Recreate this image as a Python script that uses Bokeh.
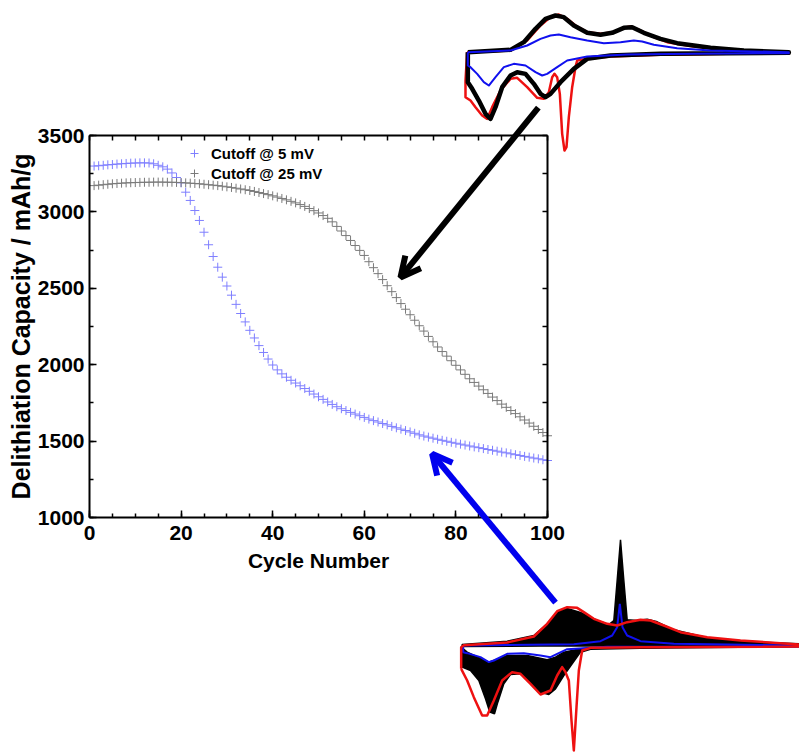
from bokeh.plotting import figure
from bokeh.models import (Range1d, LinearAxis, SingleIntervalTicker, Arrow, OpenHead,
                          Legend, LegendItem, CustomJSTickFormatter)
from bokeh.embed import file_html
from bokeh.resources import INLINE

# ---------------- data ----------------
cycles = list(range(1, 101))

cap_5mV = [3300, 3302, 3305, 3308, 3310, 3313, 3315, 3317, 3319, 3320,
           3321, 3321, 3320, 3315, 3305, 3295, 3280, 3255, 3225, 3190,
           3129, 3075, 3009, 2944, 2867, 2785, 2708, 2638, 2573, 2515,
           2455, 2395, 2335, 2280, 2225, 2175, 2125, 2080, 2037, 1998,
           1966, 1940, 1918, 1898, 1880, 1862, 1844, 1826, 1808, 1790,
           1773, 1756, 1740, 1725, 1712, 1700, 1688, 1677, 1666, 1655,
           1644, 1634, 1625, 1615, 1606, 1596, 1587, 1578, 1569, 1560,
           1551, 1541, 1533, 1526, 1519, 1512, 1505, 1499, 1492, 1486,
           1480, 1474, 1468, 1462, 1457, 1451, 1445, 1440, 1434, 1428,
           1423, 1417, 1411, 1406, 1400, 1395, 1389, 1384, 1378, 1373]

cap_25mV = [3172, 3175, 3178, 3181, 3184, 3186, 3188, 3190, 3191, 3192,
            3193, 3194, 3194, 3195, 3195, 3195, 3194, 3194, 3193, 3192,
            3190, 3188, 3186, 3184, 3181, 3178, 3175, 3172, 3168, 3164,
            3160, 3155, 3150, 3145, 3140, 3134, 3127, 3120, 3113, 3105,
            3097, 3088, 3079, 3069, 3059, 3048, 3036, 3022, 3008, 2993,
            2976, 2958, 2935, 2905, 2875, 2845, 2813, 2780, 2748, 2715,
            2674, 2635, 2596, 2557, 2517, 2478, 2439, 2400, 2363, 2327,
            2291, 2255, 2220, 2185, 2150, 2116, 2086, 2056, 2026, 1996,
            1966, 1937, 1908, 1884, 1860, 1836, 1812, 1788, 1765, 1742,
            1721, 1700, 1680, 1659, 1638, 1618, 1597, 1576, 1556, 1535]

series_labels = ["Cutoff @ 5 mV", "Cutoff @ 25 mV"]
x_label = "Cycle Number"
y_label = "Delithiation Capacity / mAh/g"

# top inset CV (potential V, current mA) - 25 mV cutoff
top_red_v = [0.03, 0.225, 0.3, 0.36, 0.405, 0.4425, 0.48, 0.5175, 0.57, 0.63, 0.69, 0.735, 0.765, 0.81, 0.87,
             0.93, 1.05, 1.2, 1.35, 1.4775,
             1.4775, 1.2, 0.9, 0.675, 0.57, 0.525, 0.5175, 0.5025, 0.4875, 0.477, 0.468, 0.4575, 0.447, 0.435,
             0.423, 0.4125, 0.3975, 0.375, 0.345, 0.3, 0.255, 0.225, 0.18, 0.1425, 0.12, 0.0975, 0.0675, 0.045,
             0.0225, 0.0225, 0.03]
top_red_i = [0.0, 0.05, 0.35, 0.8, 1.05, 1.13, 1.0, 0.8, 0.6, 0.55, 0.6, 0.73, 0.77, 0.65, 0.45,
             0.3, 0.17, 0.07, 0.02, -0.02,
             -0.05, -0.05, -0.08, -0.13, -0.2, -0.25, -0.45, -1.05, -1.95, -2.85, -2.95, -2.45, -1.25, -0.75,
             -0.65, -0.75, -1.2, -1.4, -1.37, -1.05, -0.77, -0.8, -1.15, -1.65, -2.0, -1.9, -1.65, -1.45,
             -1.35, -0.85, 0.0]
top_black_v = [0.033, 0.225, 0.285, 0.3375, 0.3825, 0.4275, 0.465, 0.51, 0.57, 0.63, 0.6825, 0.735, 0.7725,
               0.825, 0.9, 0.975, 1.125, 1.275, 1.4775,
               1.4775, 1.2, 0.9, 0.675, 0.57, 0.51, 0.45, 0.405, 0.3825, 0.36, 0.33, 0.2925, 0.255, 0.225,
               0.1875, 0.1575, 0.135, 0.1125, 0.0825, 0.0525, 0.033, 0.033]
top_black_i = [0.0, 0.07, 0.3, 0.7, 1.0, 1.1, 1.05, 0.8, 0.58, 0.52, 0.58, 0.73, 0.75,
               0.58, 0.4, 0.27, 0.13, 0.05, 0.0,
               -0.02, -0.03, -0.05, -0.1, -0.2, -0.5, -0.9, -1.25, -1.35, -1.25, -0.95, -0.65, -0.6, -0.7,
               -1.05, -1.65, -2.0, -1.85, -1.45, -1.1, -0.9, 0.0]
top_blue_v = [0.033, 0.225, 0.3, 0.36, 0.405, 0.4425, 0.495, 0.57, 0.645, 0.72, 0.78, 0.8175, 0.87, 0.975,
              1.125, 1.4775,
              1.4775, 1.05, 0.75, 0.57, 0.48, 0.435, 0.39, 0.3675, 0.3375, 0.2925, 0.24, 0.195, 0.1575,
              0.1275, 0.105, 0.075, 0.045, 0.033, 0.033]
top_blue_i = [0.0, 0.05, 0.2, 0.4, 0.5, 0.53, 0.45, 0.35, 0.27, 0.3, 0.35, 0.32, 0.22, 0.12,
              0.05, 0.0,
              -0.03, -0.05, -0.07, -0.13, -0.25, -0.45, -0.65, -0.7, -0.6, -0.4, -0.35, -0.45, -0.75,
              -1.0, -0.9, -0.65, -0.45, -0.4, 0.0]

# bottom inset CV (potential V, current mA) - 5 mV cutoff
bot_ox_band_v = [0.0975, 0.3, 0.42, 0.48, 0.525, 0.57, 0.63, 0.705, 0.7575, 0.78, 0.795, 0.81, 0.825, 0.84,
                 0.885, 0.93, 0.975, 1.05, 1.2, 1.35, 1.6125,
                 1.6125, 0.84, 0.6, 0.0975]
bot_ox_band_i = [0.04, 0.14, 0.31, 0.66, 1.01, 1.12, 1.0, 0.76, 0.64, 0.76, 1.96, 3.18, 1.96, 0.78,
                 0.76, 0.8, 0.72, 0.48, 0.24, 0.14, 0.06,
                 0.0, -0.01, 0.0, -0.02]
bot_red_band_v = [0.093, 0.12, 0.2175, 0.3, 0.39, 0.48, 0.5175, 0.555, 0.63, 0.75, 1.6125,
                  1.6125, 0.9, 0.675, 0.63, 0.5925, 0.555, 0.5175, 0.4875, 0.45, 0.405, 0.36, 0.315,
                  0.285, 0.258, 0.243, 0.222, 0.2025, 0.1725, 0.135, 0.0975]
bot_red_band_i = [-0.04, -0.19, -0.49, -0.29, -0.29, -0.42, -0.34, -0.19, -0.09, -0.05, -0.02,
                  -0.03, -0.07, -0.1, -0.19, -0.54, -0.89, -1.29, -1.46, -1.39, -1.09, -0.84, -0.86,
                  -1.14, -1.69, -2.04, -1.99, -1.59, -1.04, -0.74, -0.64]
bot_red_v = [0.093, 0.093, 0.105, 0.3, 0.42, 0.48, 0.525, 0.57, 0.615, 0.645, 0.69, 0.75, 0.795, 0.84, 0.9,
             0.945, 1.005, 1.08, 1.2, 1.35, 1.6125,
             1.6125, 0.9, 0.675, 0.6375, 0.6225, 0.612, 0.6, 0.5895, 0.5775, 0.5625, 0.5475, 0.525, 0.495,
             0.45, 0.405, 0.36, 0.3225, 0.2775, 0.24, 0.21, 0.1875, 0.15, 0.12, 0.093]
bot_red_i = [-0.69, -0.04, 0.02, 0.1, 0.28, 0.66, 1.04, 1.16, 1.14, 1.01, 0.81, 0.66, 0.61, 0.71, 0.78,
             0.76, 0.61, 0.41, 0.26, 0.16, 0.04,
             -0.02, -0.04, -0.06, -0.14, -0.74, -1.84, -3.14, -2.24, -1.04, -0.79, -0.64, -0.89, -1.34,
             -1.46, -1.14, -0.84, -0.79, -1.04, -1.64, -2.09, -2.09, -1.54, -1.04, -0.69]
bot_blue_v = [0.105, 0.6, 0.72, 0.7725, 0.795, 0.807, 0.819, 0.84, 0.9, 1.05, 1.6125,
              1.6125, 0.75, 0.57, 0.525, 0.495, 0.45, 0.375, 0.3, 0.24, 0.2175, 0.18, 0.12, 0.102, 0.102]
bot_blue_i = [0.01, 0.05, 0.14, 0.31, 0.56, 1.26, 0.56, 0.31, 0.14, 0.06, 0.01,
              -0.02, -0.03, -0.1, -0.24, -0.34, -0.29, -0.22, -0.24, -0.44, -0.49, -0.34, -0.22, -0.19, 0.0]

# arrows (start -> tip) in main-plot data coordinates
arrow_black = dict(x_start=98.0, y_start=3683, x_end=67.9, y_end=2571)
arrow_blue = dict(x_start=101.75, y_start=443, x_end=74.8, y_end=1417)

# ---------------- layout geometry ----------------
W, H = 799, 753
OFF = 0


def xpx(page_x):
    return page_x - OFF


def ypx(page_y):
    return H - (page_y - OFF)


def to_range(v0, p0, v1, p1, L):
    s = (p1 - p0) / (v1 - v0)
    return Range1d(start=v0 - p0 / s, end=v0 + (L - p0) / s)


FONT = "Liberation Sans"

p = figure(width=W, height=H,
           x_range=to_range(0, xpx(89), 100, xpx(547), W),
           y_range=to_range(1000, ypx(517), 3500, ypx(135), H),
           x_axis_type=None, y_axis_type=None,
           output_backend="svg", toolbar_location=None,
           min_border=0, outline_line_color=None,
           background_fill_color="white", border_fill_color="white")

p.extra_x_ranges = {
    "tv": to_range(0, xpx(460), 1.5, xpx(793.33), W),
    "bv": to_range(0, xpx(440), 1.5, xpx(773.33), W),
}
p.extra_y_ranges = {
    "ti": to_range(0, ypx(51.67), 1, ypx(18.33), H),
    "bi": to_range(0, ypx(645.33), 1, ypx(612), H),
}

# ---- bottom inset ----
p.patch(bot_ox_band_v, bot_ox_band_i, x_range_name="bv", y_range_name="bi",
        fill_color="black", line_color="black", line_width=1.5)
p.patch(bot_red_band_v, bot_red_band_i, x_range_name="bv", y_range_name="bi",
        fill_color="black", line_color="black", line_width=1.5)
p.line(bot_blue_v, bot_blue_i, x_range_name="bv", y_range_name="bi",
       line_color="#1010ee", line_width=2)
p.line(bot_red_v, bot_red_i, x_range_name="bv", y_range_name="bi",
       line_color="#ee1111", line_width=2.5, line_join="round")

# ---- top inset ----
p.line(top_red_v, top_red_i, x_range_name="tv", y_range_name="ti",
       line_color="#ee1111", line_width=2.5, line_join="round")
p.line(top_black_v, top_black_i, x_range_name="tv", y_range_name="ti",
       line_color="black", line_width=4.5, line_join="round")
p.line(top_blue_v, top_blue_i, x_range_name="tv", y_range_name="ti",
       line_color="#1010ee", line_width=2, line_join="round")

# ---- main data ----
r5 = p.scatter(cycles, cap_5mV, marker="cross", size=9, line_color="#7f7fff", line_width=1)
r25 = p.scatter(cycles, cap_25mV, marker="cross", size=9, line_color="#7a7a7a", line_width=1)


# ---- axes (box) ----
def style(ax, tick_in, minor_in):
    ax.axis_line_width = 2
    ax.axis_line_color = "black"
    ax.major_tick_line_width = 1.5
    ax.minor_tick_line_width = 1.5
    ax.major_tick_line_color = "black"
    ax.minor_tick_line_color = "black"
    ax.major_tick_in = tick_in
    ax.major_tick_out = 0
    ax.minor_tick_in = minor_in
    ax.minor_tick_out = 0
    ax.major_label_text_font = FONT
    ax.major_label_text_font_style = "bold"
    ax.major_label_text_font_size = "21px"
    ax.major_label_text_color = "black"
    ax.axis_label_text_font = FONT
    ax.axis_label_text_font_style = "bold"
    ax.axis_label_text_color = "black"


xb = LinearAxis(ticker=SingleIntervalTicker(interval=20, num_minor_ticks=4),
                fixed_location=1000, bounds=(0, 100), axis_label=x_label)
style(xb, 7, 4)
xb.axis_label_text_font_size = "21px"
xb.major_label_standoff = 8
xb.axis_label_standoff = 6
p.add_layout(xb, "below")

yl = LinearAxis(ticker=SingleIntervalTicker(interval=500, num_minor_ticks=2),
                fixed_location=0, bounds=(1000, 3500), axis_label=y_label)
style(yl, 7, 4)
yl.axis_label_text_font_size = "25px"
yl.major_label_standoff = 5
yl.axis_label_standoff = 0
p.add_layout(yl, "left")

blank = CustomJSTickFormatter(code="return ''")
xt = LinearAxis(ticker=SingleIntervalTicker(interval=5, num_minor_ticks=0),
                fixed_location=3500, bounds=(0, 100), formatter=blank)
style(xt, 5, 0)
p.add_layout(xt, "above")

yr = LinearAxis(ticker=SingleIntervalTicker(interval=250, num_minor_ticks=0),
                fixed_location=100, bounds=(1000, 3500), formatter=blank)
style(yr, 5, 0)
p.add_layout(yr, "right")

# ---- legend ----
legend = Legend(items=[LegendItem(label=series_labels[0], renderers=[r5]),
                       LegendItem(label=series_labels[1], renderers=[r25])],
                location=(184, H - 183), glyph_width=20, glyph_height=20, label_height=20,
                spacing=0, padding=0, margin=0, label_standoff=7,
                border_line_color=None, background_fill_alpha=0,
                label_text_font=FONT, label_text_font_style="bold",
                label_text_font_size="15px", label_text_color="black")
p.add_layout(legend)

# ---- arrows ----
p.add_layout(Arrow(end=OpenHead(size=20, line_width=6, line_color="black"),
                   line_width=6, line_color="black", **arrow_black))
p.add_layout(Arrow(end=OpenHead(size=20, line_width=6, line_color="#0000ee"),
                   line_width=6, line_color="#0000ee", **arrow_blue))

open("out.html", "w").write(file_html(p, INLINE))
